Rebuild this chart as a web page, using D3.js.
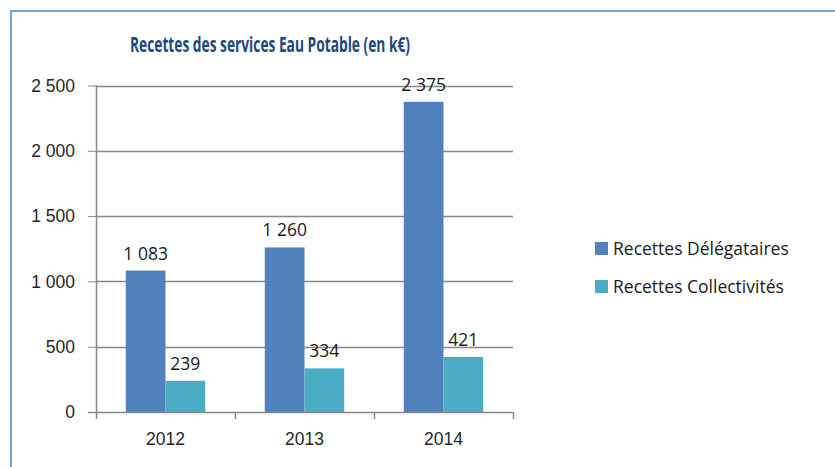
<!DOCTYPE html>
<html>
<head>
<meta charset="utf-8">
<script src="https://cdn.jsdelivr.net/npm/d3@7"></script>
<style>
	body { margin: 0; background: #fff; }
	svg { display: block; font-family: "Open Sans", "Noto Sans", sans-serif; }
</style>
</head>
<body>
<div id="chart"></div>
<script>
const years = ['2012', '2013', '2014'];
const seriesNames = ['Recettes Délégataires', 'Recettes Collectivités'];
const delegataires = [1083, 1260, 2375];
const collectivites = [239, 334, 421];
const yTicks = [0, 500, 1000, 1500, 2000, 2500];
const colors = ['#4f81bd', '#4bacc6'];

const width = 835, height = 467;
const plot = {left: 96, right: 513, top: 85.5, bottom: 412};
const labelSize = 17.5;

// "2 500" style thousands
const fmt = d3.formatLocale({decimal: ',', thousands: '\u2009', grouping: [3], currency: ['', '€']}).format(',d');
const fmtNum = (v) => fmt(v).replace('\u2009', ' ');

const svg = d3.select('#chart').append('svg')
	.attr('width', width)
	.attr('height', height);

// chart frame
svg.append('rect')
	.attr('x', 11).attr('y', 11)
	.attr('width', width + 20).attr('height', height + 20)
	.attr('fill', 'none')
	.attr('stroke', '#7ea0cf')
	.attr('stroke-width', 2);

svg.append('text')
	.attr('x', 270).attr('y', 52)
	.attr('text-anchor', 'middle')
	.attr('font-size', 22)
	.attr('font-weight', 'bold')
	.attr('fill', '#1f497d')
	.attr('textLength', 280)
	.attr('lengthAdjust', 'spacingAndGlyphs')
	.text('Recettes des services Eau Potable (en k€)');

const x = d3.scaleBand().domain(years).range([plot.left, plot.right]);
const xSub = d3.scaleBand().domain(seriesNames).range([0, x.bandwidth()]).paddingOuter(0.75);
const y = d3.scaleLinear().domain([0, 2500]).range([plot.bottom, plot.top]);

// gridlines + y axis
const yAxis = d3.axisLeft(y).tickValues(yTicks).tickSize(8).tickFormat(fmtNum).tickPadding(13);
const gy = svg.append('g').attr('transform', `translate(${plot.left},0)`).call(yAxis);
gy.select('.domain').remove();
gy.selectAll('line').attr('stroke', '#888');
gy.selectAll('text').attr('font-size', labelSize).attr('fill', '#262626');

svg.append('g').selectAll('line')
	.data(yTicks.filter((t) => t > 0))
	.enter().append('line')
	.attr('x1', plot.left).attr('x2', plot.right)
	.attr('y1', (t) => Math.round(y(t)) + 0.5).attr('y2', (t) => Math.round(y(t)) + 0.5)
	.attr('stroke', '#888')
	.attr('stroke-width', 1.5);

svg.append('line')
	.attr('x1', plot.left + 0.5).attr('x2', plot.left + 0.5)
	.attr('y1', plot.top).attr('y2', plot.bottom)
	.attr('stroke', '#888').attr('stroke-width', 1.5);

// bars
const rows = years.map((yr, i) => ({year: yr, values: [delegataires[i], collectivites[i]]}));

const groups = svg.append('g').selectAll('g')
	.data(rows)
	.enter().append('g')
	.attr('transform', (d) => `translate(${x(d.year)},0)`);

groups.selectAll('rect')
	.data((d) => d.values.map((v, k) => ({name: seriesNames[k], value: v, k: k})))
	.enter().append('rect')
	.attr('x', (d) => xSub(d.name))
	.attr('width', xSub.bandwidth())
	.attr('y', (d) => y(d.value))
	.attr('height', (d) => y(0) - y(d.value))
	.attr('fill', (d) => colors[d.k]);

groups.selectAll('text')
	.data((d) => d.values.map((v, k) => ({name: seriesNames[k], value: v})))
	.enter().append('text')
	.attr('x', (d) => xSub(d.name) + xSub.bandwidth() / 2)
	.attr('y', (d) => y(d.value) - 11)
	.attr('text-anchor', 'middle')
	.attr('font-size', labelSize)
	.attr('fill', '#1a1a1a')
	.text((d) => fmtNum(d.value));

// x axis
const xAxis = d3.axisBottom(x).tickSize(0).tickPadding(21);
const gx = svg.append('g').attr('transform', `translate(0,${plot.bottom})`).call(xAxis);
gx.select('.domain').remove();
gx.selectAll('text').attr('font-size', labelSize).attr('fill', '#262626');

svg.append('line')
	.attr('x1', plot.left - 8).attr('x2', plot.right)
	.attr('y1', plot.bottom + 0.5).attr('y2', plot.bottom + 0.5)
	.attr('stroke', '#888').attr('stroke-width', 1.5);

svg.append('g').selectAll('line')
	.data(years.map((yr) => x(yr)).concat([plot.right]))
	.enter().append('line')
	.attr('x1', (d) => d + 0.5).attr('x2', (d) => d + 0.5)
	.attr('y1', plot.bottom).attr('y2', plot.bottom + 7)
	.attr('stroke', '#888').attr('stroke-width', 1.5);

// legend
const legend = svg.append('g').selectAll('g')
	.data(seriesNames)
	.enter().append('g')
	.attr('transform', (d, i) => `translate(595,${242 + i * 38})`);

legend.append('rect')
	.attr('width', 13).attr('height', 13)
	.attr('fill', (d, i) => colors[i]);

legend.append('text')
	.attr('x', 18).attr('y', 13)
	.attr('font-size', labelSize)
	.attr('fill', '#1a1a1a')
	.text((d) => d);
</script>
</body>
</html>
